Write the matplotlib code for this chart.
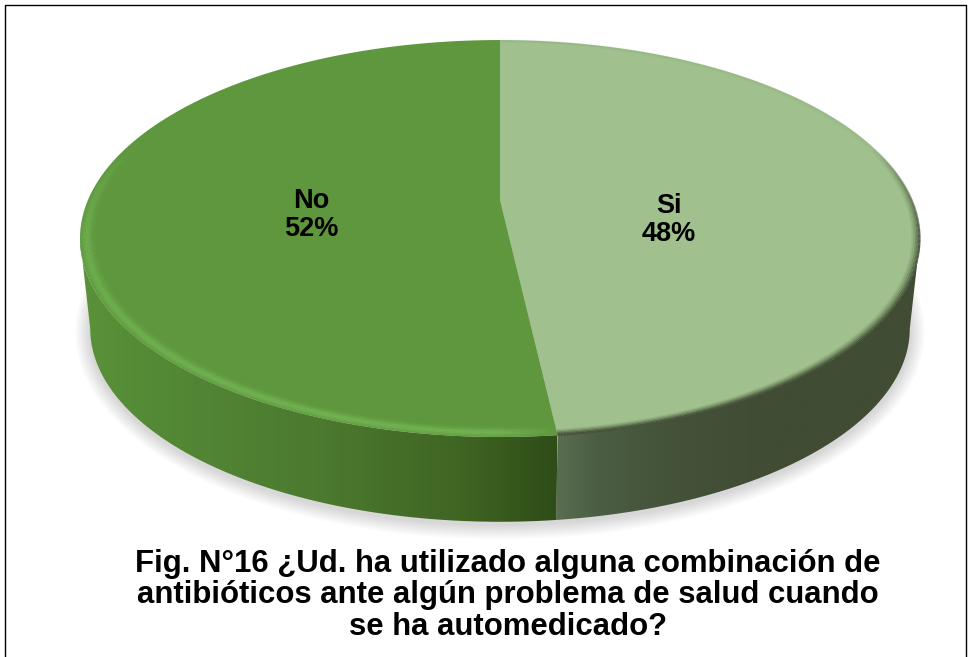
import numpy as np
import matplotlib
matplotlib.use("Agg")
import matplotlib.pyplot as plt
from matplotlib.colors import LinearSegmentedColormap
from matplotlib.collections import LineCollection
from matplotlib.patches import Polygon

categories = ["Si", "No"]
values = [48.2, 51.8]
title_lines = ["Fig. N°16 ¿Ud. ha utilizado alguna combinación de",
               "antibióticos ante algún problema de salud cuando",
               "se ha automedicado?"]

plt.rcParams['font.family'] = ['Liberation Sans', 'DejaVu Sans']
W, H = 968, 657
fig = plt.figure(figsize=(W / 100, H / 100), dpi=100)
ax = fig.add_axes([0, 0, 1, 1])
ax.set_xlim(0, W); ax.set_ylim(H, 0); ax.axis('off')

K = 0.194
def proj(phi, r=1.0, cx=500, y0=200, R=412, S=191):
    u, v = r * np.cos(phi), r * np.sin(phi)
    w = 1 + K * v
    return cx + R * u / w, y0 - S * v / w

BOT = dict(cx=500, y0=291, R=402, S=186)

fracs = np.array(values) / sum(values)
edges = np.pi / 2 - 2 * np.pi * np.concatenate([[0], np.cumsum(fracs)])
TAN = np.arcsin(K)

# soft ground shadow
n_sh = 20
for i in range(n_sh):
    px, py = proj(np.linspace(0, 2 * np.pi, 300), **BOT)
    ax.fill(500 + (px - 500) * (1 + (n_sh - i) * 0.75 / 400),
            325 + (py - 325) * (1 + (n_sh - i) * 0.75 / 197) + 3,
            color='#000000', alpha=0.006, lw=0, zorder=1)

# side walls with horizontal shading
side_cols = [["#5a6e50", "#4b5e44", "#44533a", "#404c33", "#404c33"],
             ["#5a9239", "#548a36", "#4c7a2f", "#3f6523", "#2f4d18"]]
side_stops = [[0, 0.12, 0.3, 0.6, 1], [0, 0.15, 0.5, 0.8, 1]]
split_phi = edges[1]
ranges = [(split_phi, -TAN, 553, 922), (np.pi + TAN, 2 * np.pi + split_phi, 78, 557)]
for (a, b, x0, x1), cols, st in zip(ranges, side_cols, side_stops):
    ph = np.linspace(a, b, 200)
    tx, ty = proj(ph)
    bx, by = proj(ph, **BOT)
    poly = Polygon(np.column_stack([np.r_[tx, bx[::-1]], np.r_[ty, by[::-1]]]),
                   transform=ax.transData, fc='none', ec='none')
    ax.add_patch(poly)
    cm = LinearSegmentedColormap.from_list('s', list(zip(st, cols)))
    im = ax.imshow(np.linspace(0, 1, 256)[None, :], cmap=cm, extent=[x0, x1, 530, 200],
                   aspect='auto', zorder=2)
    im.set_clip_path(poly)
ax.set_xlim(0, W); ax.set_ylim(H, 0)

# top faces
top_cols = ["#A0C08D", "#5F973E"]
for i, c in enumerate(top_cols):
    ph = np.linspace(edges[i], edges[i + 1], 300)
    x, y = proj(ph)
    ax.fill(np.r_[500, x], np.r_[200, y], color=c, lw=0, zorder=3)

# bevel rims
def rim(a, b, r, color, alpha_fn, lw):
    ph = np.linspace(a, b, 500)
    x, y = proj(ph, r=r)
    pts = np.column_stack([x, y])
    segs = np.stack([pts[:-1], pts[1:]], axis=1)
    al = alpha_fn(ph[:-1])
    rgb = matplotlib.colors.to_rgb(color)
    ax.add_collection(LineCollection(segs, colors=[(*rgb, t) for t in al],
                                     linewidths=lw, zorder=4, capstyle='butt'))

def green_alpha(ph):
    v = np.sin(ph)
    u = np.cos(ph)
    return np.clip((0.3 - v) / 0.5, 0, 1) * np.clip((0.12 - u) / 0.12, 0, 1)
for r, k in [(0.997, .25), (0.992, .5), (0.987, .75), (0.982, .75), (0.977, .5), (0.972, .25), (0.967, .1)]:
    rim(edges[1], edges[2], r, '#74B655', lambda p, k=k: k * green_alpha(p), 1.6)

def light_alpha(ph):
    v = np.sin(ph)
    return np.clip((0.3 - v) / 0.5, 0.03, 1)
for r, k in [(0.999, .9), (0.995, .65), (0.991, .4), (0.987, .22), (0.983, .1)]:
    rim(edges[0], edges[1], r, '#414D34', lambda p, k=k: k * light_alpha(p), 1.5)

# data labels
label_pos = [(669, 220), (311, 215)]
for (x, y), name, val in zip(label_pos, categories, fracs):
    ax.text(x, y, f"{name}\n{val * 100:.0f}%", ha='center', va='center', fontsize=19.5,
            fontweight='bold', color='black', linespacing=1.12, zorder=6)

# title
for y, line in zip([572, 603, 635], title_lines):
    ax.text(508, y, line, ha='center', va='baseline', fontsize=22.4, fontweight='bold',
            color='black', zorder=6)

# frame (no bottom edge in the crop)
ax.plot([5, 5, 966, 966], [H, 5, 5, H], color='black', lw=1.0, zorder=7, clip_on=False)

fig.savefig('out.png', dpi=100, facecolor='white')
